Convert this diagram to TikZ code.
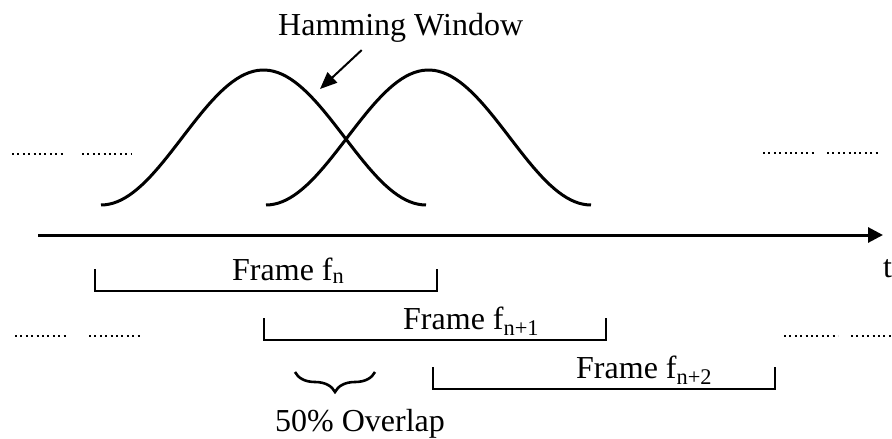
\documentclass[tikz,border=0pt]{standalone}
\usepackage{fontspec}
\setmainfont{Liberation Serif}
\usetikzlibrary{arrows.meta,decorations.pathreplacing}

\begin{document}
\begin{tikzpicture}[
x=1pt, y=-1pt, % one unit per pixel, y runs downwards
>={Triangle[length=15pt,width=15pt]},
every node/.style={font=\fontsize{32}{38}\selectfont, inner sep=0pt},
window/.style={line width=3pt, line join=round},
frame/.style={line width=2.6pt},
dots/.style={line width=2pt, dash pattern=on 2pt off 3.4pt}
]
\useasboundingbox (0,0) rectangle (892,439);

% ================= Windows =================
% Two overlapping Hamming windows, shifted by half a frame
\draw[window] plot[domain=101:426, samples=80]
  (\x, {205-135*(0.5-0.5*cos((\x-101)/325*360))});
\draw[window] plot[domain=266:591, samples=80]
  (\x, {205-135*(0.5-0.5*cos((\x-266)/325*360))});

% Label with its arrow
\node[anchor=base west] (hamming) at (278,35) {Hamming Window};
\coordinate (hamtip) at (320,89);
\draw[->, line width=2pt, >={Triangle[length=17pt,width=14pt]}]
  ([xshift=-39pt,yshift=-8pt]hamming.south) -- (hamtip);

% Continuation dots, upper row
\draw[dots] (12,154) -- (63,154);
\draw[dots] (82,154) -- (131,154);
\draw[dots] (763,153) -- (816,153);
\draw[dots] (827,153) -- (878,153);

% ================= Time axis =================
\coordinate (t0) at (38,235);
\coordinate (t1) at (883,235);
\node[anchor=base west] (tlabel) at (883,277) {t};
\draw[->, line width=3pt] (t0) -- (t1);

% ================= Frames =================
\draw[frame] (95,269) |- (437,291) -- (437,269);
\node[anchor=base west] (fn) at (232,280) {Frame f\textsubscript{n}};

\draw[frame] (264,318) |- (606,340) -- (606,318);
\node[anchor=base west] (fn1) at (403,329) {Frame f\textsubscript{n+1}};

\draw[frame] (433,367) |- (775,389) -- (775,367);
\node[anchor=base west] (fn2) at (576,378) {Frame f\textsubscript{n+2}};

% Continuation dots, lower row
\draw[dots] (15,336) -- (67,336);
\draw[dots] (89,336) -- (141,336);
\draw[dots] (784,336) -- (838,336);
\draw[dots] (851,336) -- (895,336);

% ================= Overlap =================
\coordinate (ovla) at (295,372);
\coordinate (ovlb) at (375,372);
\draw[frame, decorate, decoration={brace, mirror, amplitude=20pt}] (ovla) -- (ovlb);
\node[anchor=base west] (overlap) at (275,431) {50\% Overlap};

\end{tikzpicture}
\end{document}
